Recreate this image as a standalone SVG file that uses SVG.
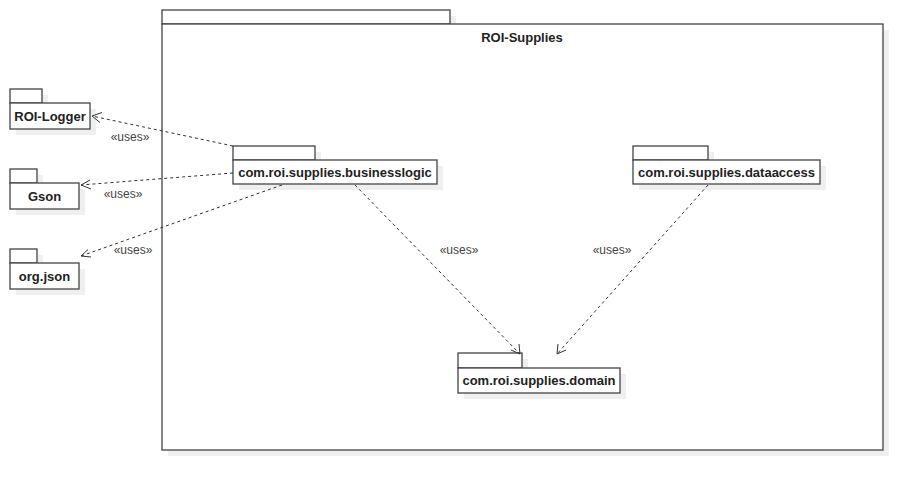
<svg xmlns="http://www.w3.org/2000/svg" width="922" height="490" viewBox="0 0 922 490">
<style>
.sh{fill:#efefef;stroke:none}
.box{fill:#fff;stroke:#444;stroke-width:1.3}
.nt{font-family:"Liberation Sans",Arial,sans-serif;font-size:13px;font-weight:bold;fill:#222;text-anchor:middle}
.lb{font-family:"Liberation Sans",Arial,sans-serif;font-size:12px;fill:#444;text-anchor:middle}
.dep{fill:none;stroke:#333;stroke-width:1;stroke-dasharray:3,3}
.ah{fill:none;stroke:#333;stroke-width:1}
</style>
<rect width="922" height="490" fill="#fff"/>
<g id="ROI-Supplies">
<rect class="sh" x="168" y="16" width="288" height="14"/>
<rect class="sh" x="168" y="30" width="721" height="426"/>
<rect class="box" x="162" y="10" width="288" height="14"/>
<rect class="box" x="162" y="24" width="721" height="426"/>
<text class="nt" x="522" y="42">ROI-Supplies</text>
</g>
<g id="ROI-Logger">
<rect class="sh" x="16" y="95" width="32" height="14"/>
<rect class="sh" x="16" y="109" width="80" height="26"/>
<rect class="box" x="10" y="89" width="32" height="14"/>
<rect class="box" x="10" y="103" width="80" height="26"/>
<text class="nt" x="50" y="121">ROI-Logger</text>
</g>
<g id="Gson">
<rect class="sh" x="16" y="175" width="27" height="14"/>
<rect class="sh" x="16" y="189" width="69" height="26"/>
<rect class="box" x="10" y="169" width="27" height="14"/>
<rect class="box" x="10" y="183" width="69" height="26"/>
<text class="nt" x="44.5" y="201">Gson</text>
</g>
<g id="org.json">
<rect class="sh" x="16" y="255" width="27" height="14"/>
<rect class="sh" x="16" y="269" width="69" height="26"/>
<rect class="box" x="10" y="249" width="27" height="14"/>
<rect class="box" x="10" y="263" width="69" height="26"/>
<text class="nt" x="44.5" y="281">org.json</text>
</g>
<g id="businesslogic">
<rect class="sh" x="239" y="152" width="82" height="14"/>
<rect class="sh" x="239" y="166" width="204" height="24"/>
<rect class="box" x="233" y="146" width="82" height="14"/>
<rect class="box" x="233" y="160" width="204" height="24"/>
<text class="nt" x="335" y="177">com.roi.supplies.businesslogic</text>
</g>
<g id="dataaccess">
<rect class="sh" x="639" y="152" width="75" height="14"/>
<rect class="sh" x="639" y="166" width="187" height="24"/>
<rect class="box" x="633" y="146" width="75" height="14"/>
<rect class="box" x="633" y="160" width="187" height="24"/>
<text class="nt" x="726.5" y="177">com.roi.supplies.dataaccess</text>
</g>
<g id="domain">
<rect class="sh" x="464" y="359" width="64" height="15"/>
<rect class="sh" x="464" y="374" width="162" height="25"/>
<rect class="box" x="458" y="353" width="64" height="15"/>
<rect class="box" x="458" y="368" width="162" height="25"/>
<text class="nt" x="539" y="385">com.roi.supplies.domain</text>
</g>
<g id="connectors">
<path class="dep" d="M233,146 L92,116"/>
<path class="ah" d="M102,112.5 L92,116 L100,122.5"/>
<text class="lb" x="130" y="141">«uses»</text>
<path class="dep" d="M233,173 L81,185"/>
<path class="ah" d="M90,180 L81,185 L91,189"/>
<text class="lb" x="123" y="198">«uses»</text>
<path class="dep" d="M282,185 L81,256"/>
<path class="ah" d="M88,249.5 L81,256 L91,257"/>
<text class="lb" x="133" y="254">«uses»</text>
<path class="dep" d="M355,185 L520,354"/>
<path class="ah" d="M519,344 L520,354 L511,350"/>
<text class="lb" x="459" y="254">«uses»</text>
<path class="dep" d="M708,185 L557,354"/>
<path class="ah" d="M558,344 L557,354 L566,350"/>
<text class="lb" x="612" y="254">«uses»</text>
</g>
</svg>
